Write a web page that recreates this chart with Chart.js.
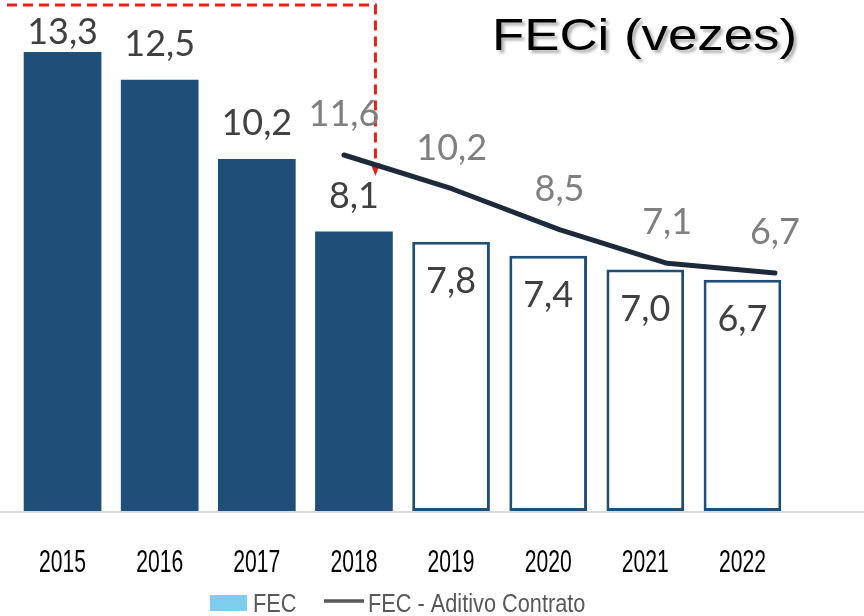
<!DOCTYPE html>
<html>
<head>
<meta charset="utf-8">
<script src="https://cdn.jsdelivr.net/npm/chart.js@4.4.1/dist/chart.umd.min.js"></script>
<style>
  html, body { margin: 0; padding: 0; background: #fff; overflow: hidden; }
  #wrap { width: 864px; height: 616px; }
</style>
</head>
<body>
<div id="wrap"><canvas id="feciChart" width="864" height="616"></canvas></div>
<script>
// data
const years = ["2015", "2016", "2017", "2018", "2019", "2020", "2021", "2022"];
const fecValues = [13.3, 12.5, 10.2, 8.1, 7.8, 7.4, 7.0, 6.7];
const projected = [false, false, false, false, true, true, true, true];
const aditivoYears = [2018, 2019, 2020, 2021, 2022];
const aditivoValues = [11.6, 10.2, 8.5, 7.1, 6.7];
const legendLabels = ["FEC", "FEC - Aditivo Contrato"];
const titleText = "FECi (vezes)";

const DARK_BLUE = "#1f4e79";
const SANS = '"Liberation Sans", Arial, sans-serif';
const LABEL_FONT = '36px Lato, "Open Sans", sans-serif';

const fmt = v => v.toFixed(1).replace(".", ",");

// canvas has no narrow font here, so squeeze the text horizontally
function squeezedText(ctx, text, x, y, sx) {
  ctx.save();
  ctx.translate(x, y);
  ctx.scale(sx, 1);
  ctx.fillText(text, 0, 0);
  ctx.restore();
}

const decorPlugin = {
  id: "decor",
  beforeDatasetsDraw(chart) {
    const { ctx, chartArea, scales } = chart;
    ctx.save();
    // baseline across the whole picture
    ctx.strokeStyle = "#d9d9d9";
    ctx.lineWidth = 2;
    ctx.beginPath();
    ctx.moveTo(0, chartArea.bottom + 1);
    ctx.lineTo(chart.width, chartArea.bottom + 1);
    ctx.stroke();

    // red dashed arrow pointing at the start of the contract line
    const ax = scales.x.getPixelForValue(3) + 21.5;
    const tipY = scales.y2.getPixelForValue(aditivoValues[0]) + 21;
    ctx.strokeStyle = "#e8201a";
    ctx.lineWidth = 3;
    ctx.setLineDash([10, 6]);
    ctx.beginPath();
    ctx.moveTo(7, 5);
    ctx.lineTo(ax, 5);
    ctx.lineTo(ax, tipY - 12);
    ctx.stroke();
    ctx.setLineDash([]);
    ctx.fillStyle = "#e8201a";
    ctx.beginPath();
    ctx.moveTo(ax - 5, tipY - 13);
    ctx.lineTo(ax + 5, tipY - 13);
    ctx.lineTo(ax, tipY);
    ctx.closePath();
    ctx.fill();
    ctx.restore();
  },
  afterDatasetsDraw(chart) {
    const { ctx, scales } = chart;
    ctx.save();
    ctx.textAlign = "center";
    ctx.textBaseline = "alphabetic";
    ctx.font = LABEL_FONT;

    // bar values
    ctx.fillStyle = "#404040";
    chart.getDatasetMeta(0).data.forEach((bar, i) => {
      let cy;
      if (projected[i]) cy = bar.y + 39;
      else cy = Math.max(bar.y - 36.5, 31);
      ctx.fillText(fmt(fecValues[i]), bar.x, cy + 12.5);
    });

    // contract line values
    ctx.fillStyle = "#7f7f7f";
    chart.getDatasetMeta(1).data.forEach((pt, i) => {
      ctx.fillText(fmt(aditivoValues[i]), pt.x, pt.y - 41.5 + 12.5);
    });

    // year labels under the bars
    ctx.fillStyle = "#000";
    ctx.font = "32px " + SANS;
    years.forEach((yr, i) => {
      squeezedText(ctx, yr, scales.x.getPixelForValue(i), 571.5, 0.66);
    });

    // title, slightly stretched with a soft shadow
    ctx.save();
    ctx.textAlign = "left";
    ctx.font = "44px " + SANS;
    ctx.shadowColor = "rgba(0,0,0,0.3)";
    ctx.shadowOffsetX = 3;
    ctx.shadowOffsetY = 3;
    ctx.shadowBlur = 3;
    ctx.fillStyle = "#000";
    squeezedText(ctx, titleText, 492, 50, 1.2);
    ctx.restore();

    // legend (cut by the bottom edge like the original)
    ctx.textAlign = "left";
    ctx.font = "26.5px " + SANS;
    ctx.fillStyle = "#7dcdef";
    ctx.fillRect(210, 595, 37, 16);
    ctx.fillStyle = "#595959";
    squeezedText(ctx, legendLabels[0], 253, 612, 0.82);
    ctx.strokeStyle = "#595959";
    ctx.lineWidth = 3.5;
    ctx.beginPath();
    ctx.moveTo(324, 601);
    ctx.lineTo(364, 601);
    ctx.stroke();
    squeezedText(ctx, legendLabels[1], 368, 612, 0.82);
    ctx.restore();
  }
};

const ctx = document.getElementById("feciChart").getContext("2d");
new Chart(ctx, {
  type: "bar",
  data: {
    labels: years,
    datasets: [
      {
        type: "bar",
        label: legendLabels[0],
        data: fecValues,
        backgroundColor: projected.map(p => p ? "#ffffff" : DARK_BLUE),
        borderColor: DARK_BLUE,
        borderWidth: projected.map(p => p ? 3 : 0),
        borderSkipped: false,
        grouped: false,
        barPercentage: 0.8,
        categoryPercentage: 1,
        xAxisID: "x",
        yAxisID: "y",
        order: 2
      },
      {
        type: "line",
        label: legendLabels[1],
        data: aditivoYears.map((yr, i) => ({ x: yr, y: aditivoValues[i] })),
        borderColor: "#1e2a3a",
        borderWidth: 5,
        borderCapStyle: "round",
        borderJoinStyle: "round",
        pointRadius: 0,
        tension: 0,
        fill: false,
        xAxisID: "x2",
        yAxisID: "y2",
        order: 1
      }
    ]
  },
  options: {
    responsive: false,
    animation: false,
    layout: { padding: { left: 14, right: 73, top: 0, bottom: 105 } },
    scales: {
      x: {
        type: "category",
        offset: true,
        grid: { display: false, drawTicks: false },
        border: { display: false },
        ticks: { display: false }
      },
      x2: {
        type: "linear",
        display: false,
        offset: false,
        min: 2014.937,
        max: 2022.149
      },
      y: {
        display: false,
        min: 0,
        max: 14.81
      },
      y2: {
        display: false,
        offset: false,
        min: -3.184,
        max: 18.037
      }
    },
    plugins: {
      legend: { display: false },
      tooltip: { enabled: false },
      title: { display: false }
    }
  },
  plugins: [decorPlugin]
});
</script>
</body>
</html>
